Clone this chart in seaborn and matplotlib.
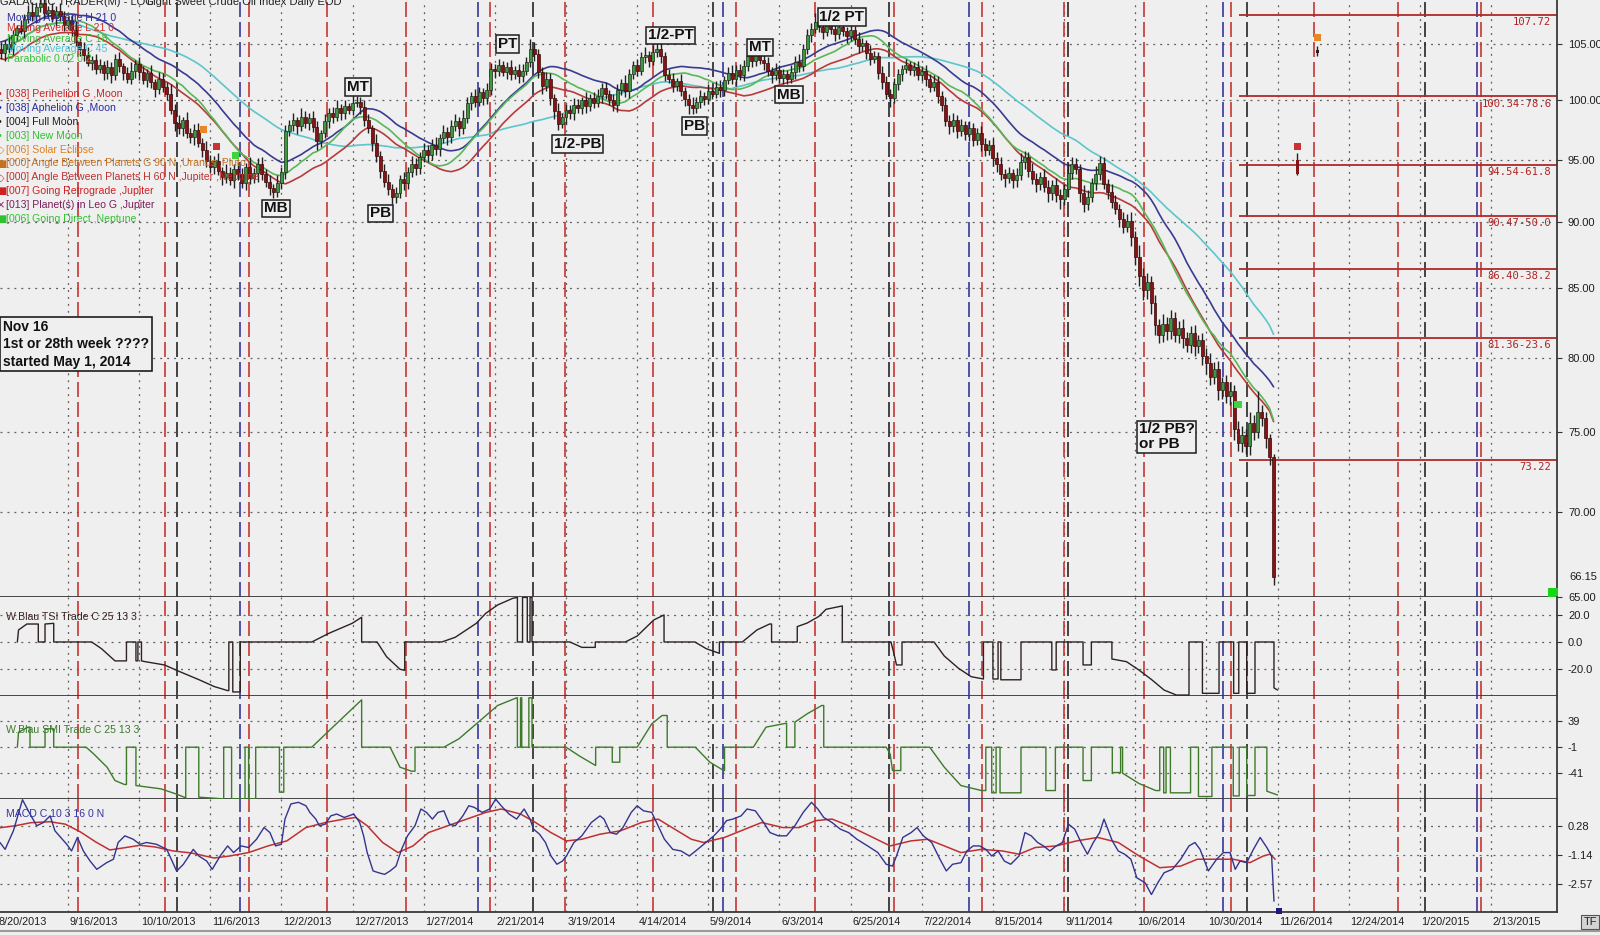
import numpy as np
import pandas as pd
import seaborn as sns
import matplotlib.pyplot as plt
from matplotlib.lines import Line2D
from matplotlib.ticker import NullLocator
from matplotlib.transforms import blended_transform_factory

sns.set_style("white")
plt.rcParams["font.family"] = ["Liberation Sans", "DejaVu Sans"]
plt.rcParams["lines.scale_dashes"] = False

# daily closes, bar 1 = 8/21/2013 ... bar 323 = 11/28/2014
closes = [
    104.2, 105.0, 104.6, 105.8, 106.5, 106.2, 107.3, 108.0, 107.6, 108.4, 108.8, 107.9, 108.2, 107.4, 108.1, 107.6, 106.8, 107.2,
    106.3, 105.2, 104.6, 104.0, 103.3, 103.6, 102.8, 103.1, 102.4, 102.9, 102.2, 103.7, 103.0, 102.4, 101.9, 102.6, 103.2, 102.5,
    101.8, 102.4, 101.6, 101.0, 101.9, 101.2, 100.6, 99.2, 98.1, 97.6, 98.3, 97.2, 96.9, 97.5, 96.4, 95.8, 94.9, 94.4,
    94.9, 94.1, 93.6, 93.9, 93.3, 94.2, 93.8, 93.1, 94.4, 93.5, 93.9, 94.6, 93.8, 93.2, 92.7, 92.4, 93.1, 94.0,
    97.4, 97.9, 98.3, 97.8, 98.6, 98.1, 98.5, 97.7, 96.5, 97.2, 98.2, 98.9, 98.6, 99.3, 98.9, 99.5, 99.2, 99.8,
    99.9, 99.4, 98.3, 97.6, 96.4, 95.3, 94.1, 93.2, 92.6, 92.0, 92.3, 93.4, 93.1, 94.0, 94.6, 94.3, 95.2, 95.8,
    95.4, 96.2, 95.9, 96.8, 97.3, 96.9, 97.8, 98.2, 97.6, 98.5, 99.8, 100.4, 99.9, 100.7, 100.2, 100.9, 102.8, 102.6,
    103.1, 102.5, 102.9, 102.3, 102.7, 102.1, 102.6, 103.4, 104.6, 104.1, 102.5, 101.3, 101.9, 100.2, 99.1, 98.0, 98.6, 99.2,
    98.9, 99.6, 99.3, 100.0, 99.5, 100.2, 99.8, 100.4, 101.1, 100.6, 100.0, 99.6, 100.9, 101.5, 100.8, 102.3, 103.1, 102.6,
    103.8, 104.0, 103.5, 104.3, 104.6, 103.9, 102.2, 101.9, 101.3, 101.7, 100.8, 100.1, 99.6, 99.3, 99.9, 100.4, 100.1, 100.8,
    100.6, 101.2, 100.9, 101.8, 102.4, 101.9, 102.7, 102.2, 103.0, 103.9, 103.5, 104.1, 103.6, 103.3, 102.6, 102.2, 102.7, 102.0,
    102.3, 101.9, 102.5, 103.4, 103.0, 104.6, 105.8, 106.4, 107.0, 106.6, 106.1, 106.9, 106.4, 105.9, 106.6, 106.2, 105.7, 106.3,
    105.5, 104.8, 105.1, 104.2, 103.7, 103.9, 102.4, 101.6, 100.6, 100.2, 101.4, 102.3, 102.8, 103.1, 102.7, 102.9, 102.2, 102.6,
    101.9, 101.2, 101.6, 100.4, 99.6, 98.2, 97.8, 98.3, 97.4, 97.9, 97.1, 97.6, 96.6, 97.2, 96.3, 95.8, 96.2, 95.1,
    94.6, 93.8, 93.5, 93.9, 93.3, 93.7, 94.8, 95.2, 94.1, 93.4, 93.0, 93.6, 92.8, 92.3, 92.9, 92.1, 91.8, 92.6,
    93.9, 94.6, 94.2, 92.3, 91.4, 92.0, 93.1, 93.8, 94.7, 93.0, 92.4, 91.6, 91.0, 90.2, 89.6, 90.1, 88.8, 87.3,
    85.9, 84.8, 85.4, 83.9, 82.3, 81.6, 82.4, 81.9, 82.8, 81.6, 82.1, 81.4, 80.9, 81.7, 80.8, 81.2, 80.1, 79.6,
    78.7, 79.2, 77.8, 78.3, 77.4, 77.7, 75.2, 74.3, 74.8, 74.1, 75.6, 75.0, 76.3, 75.9, 74.6, 73.4, 66.15,
]
first_open = 104.6

# upper / lower shadow length of each candle
wick_up = [
    .6, .4, .8, .5, .3, .7, .5, .6, .9, .4, .5, .8, .3, .6, .4, .7, .5, .4,
    .5, .8, .4, .6, .7, .3, .5, .6, .4, .7, .5, .4, .6, .3, .5, .8, .4, .6,
    .5, .4, .7, .3, .6, .5, .4, .8, .5, .6, .3, .7, .4, .5, .6, .4, .7, .5,
    .4, .6, .3, .7, .5, .4, .6, .5, .3, .8, .4, .5, .6, .4, .5, .3, .6, .4,
    .5, .4, .6, .3, .7, .5, .4, .6, .5, .3, .6, .4, .5, .7, .4, .5, .3, .6,
    .5, .4, .6, .5, .3, .7, .4, .5, .6, .4, .5, .3, .6, .4, .7, .5, .4, .6,
    .4, .5, .7, .3, .6, .4, .5, .6, .4, .7, .5, .3, .6, .5, .4, .6, .5, .4,
    .6, .4, .5, .7, .3, .5, .6, .4, .9, .6, .5, .4, .6, .5, .4, .7, .3, .5,
    .4, .6, .5, .3, .7, .4, .5, .6, .4, .5, .3, .6, .5, .4, .7, .5, .4, .6,
    .5, .7, .4, .6, .8, .5, .4, .6, .5, .3, .6, .4, .5, .7, .4, .5, .3, .6,
    .4, .5, .6, .3, .5, .7, .4, .5, .6, .4, .8, .5, .6, .4, .5, .3, .6, .4,
    .5, .4, .6, .5, .7, .4, .6, .5, .9, .6, .4, .7, .5, .4, .6, .5, .4, .6,
    .4, .6, .5, .3, .7, .5, .4, .6, .5, .4, .6, .5, .3, .6, .4, .5, .6, .4,
    .5, .4, .6, .5, .4, .7, .5, .6, .4, .5, .3, .6, .5, .4, .6, .5, .4, .6,
    .5, .6, .4, .5, .3, .6, .7, .5, .4, .6, .5, .4, .6, .5, .4, .6, .5, .4,
    .8, .6, .5, .4, .6, .5, .4, .7, .6, .5, .4, .6, .5, .4, .6, .5, .7, .5,
    .9, .6, .7, .5, .6, .4, .7, .5, .6, .4, .5, .6, .4, .5, .6, .4, .5, .6,
    .7, .5, .6, .4, .5, .6, .4, .5, .6, .4, .7, .5, 1.4, .5, .4, .3, .2,
]
wick_dn = [
    .5, .7, .4, .6, .5, .3, .6, .4, .5, .7, .4, .6, .5, .4, .7, .5, .6, .4,
    .6, .4, .7, .5, .3, .6, .5, .4, .6, .5, .7, .4, .5, .6, .4, .5, .6, .7,
    .4, .6, .5, .7, .4, .5, .6, .4, .7, .5, .6, .4, .5, .7, .4, .6, .5, .4,
    .6, .4, .7, .5, .4, .6, .5, .4, .6, .5, .4, .7, .5, .4, .6, .5, .4, .5,
    .6, .4, .5, .7, .4, .5, .6, .4, .7, .5, .4, .6, .5, .4, .6, .5, .4, .5,
    .4, .6, .5, .4, .7, .5, .6, .4, .5, .6, .5, .4, .6, .5, .4, .6, .5, .4,
    .6, .4, .5, .6, .4, .7, .5, .4, .6, .5, .4, .6, .5, .4, .6, .5, .4, .6,
    .5, .4, .6, .5, .4, .6, .5, .4, .5, .6, .5, .7, .5, .6, .7, .5, .4, .6,
    .5, .6, .4, .5, .6, .4, .5, .4, .6, .5, .4, .5, .6, .4, .5, .6, .4, .5,
    .4, .5, .6, .4, .5, .6, .5, .4, .6, .5, .4, .6, .8, .5, .4, .6, .5, .4,
    .5, .4, .6, .5, .4, .5, .6, .4, .5, .4, .6, .5, .4, .6, .5, .7, .4, .5,
    .6, .5, .4, .6, .5, .4, .5, .6, .4, .5, .6, .4, .5, .6, .4, .5, .6, .4,
    .5, .6, .4, .5, .6, .4, .5, .6, .5, .8, .4, .5, .6, .4, .5, .6, .4, .5,
    .6, .5, .4, .6, .5, .4, .7, .5, .6, .4, .5, .6, .5, .4, .6, .5, .4, .6,
    .6, .5, .7, .4, .6, .5, .4, .6, .5, .4, .6, .5, .4, .7, .6, .5, .8, .5,
    .6, .5, .4, .7, .6, .5, .4, .6, .5, .4, .6, .5, .4, .6, .5, .4, .7, .6,
    .8, .7, .6, .8, .7, .6, .5, .7, .6, .5, .6, .7, .5, .6, .7, .5, .6, .7,
    .6, .5, .7, .6, .5, .6, .7, .5, .6, .5, .6, .5, .4, .5, .6, .5, .45,
]

# two projected bars in the future area
proj_bars = [329, 334]
proj_open = [95.0, 104.5]
proj_close = [93.8, 104.2]
proj_high = [95.5, 104.8]
proj_low = [93.7, 103.9]

date_labels = ["8/20/2013", "9/16/2013", "10/10/2013", "11/6/2013", "12/2/2013", "12/27/2013",
               "1/27/2014", "2/21/2014", "3/19/2014", "4/14/2014", "5/9/2014", "6/3/2014",
               "6/25/2014", "7/22/2014", "8/15/2014", "9/11/2014", "10/6/2014", "10/30/2014",
               "11/26/2014", "12/24/2014", "1/20/2015", "2/13/2015"]
bars_per_label = 18

# astro event dates (bar position) and their colour group
event_bars = [20.5, 42.6, 45.5, 61.6, 63.8, 83.6, 103.6, 121.8, 124.8, 135.7, 143.8, 165.9,
              181.1, 183.8, 186.9, 207.0, 225.8, 227.1, 245.9, 249.2, 270.0, 270.9, 290.1,
              310.1, 312.3, 316.2, 333.3, 354.4, 361.3, 374.4, 375.4]
event_kinds = ["red", "red", "black", "blue", "red", "red", "red", "blue", "red", "black", "red", "red",
               "black", "blue", "red", "red", "black", "red", "blue", "red", "red", "black", "red",
               "blue", "red", "black", "red", "red", "black", "blue", "red"]

# event markers on the price panel
mark_bars = [52.2, 55.5, 60.5, 167.8, 314.0, 329.0, 334.0]
mark_prices = [97.5, 96.1, 95.3, 105.3, 76.8, 96.1, 105.6]
mark_kinds = ["orange", "red", "green", "orange", "green", "red", "orange"]

fib_levels = [107.72, 100.34, 94.54, 90.47, 86.40, 81.36, 73.22]
fib_labels = ["107.72", "100.34-78.6", "94.54-61.8", "90.47-50.0", "86.40-38.2", "81.36-23.6", "73.22"]
fib_start = 314.2

notes = ["MB", "MT", "PB", "PT", "1/2-PB", "1/2-PT", "PB", "MT", "MB", "1/2 PT", "1/2 PB?\nor PB"]
note_bars = [70.6, 91.4, 97.0, 129.3, 147.0, 170.5, 176.6, 193.1, 200.4, 213.8, 295.9]
note_prices = [91.06, 101.15, 90.66, 105.0, 96.27, 105.8, 97.8, 104.7, 100.5, 107.5, 74.7]

# indicator traces: (bar, value)
tsi_pts = [
    (5.2, 0), (5.5, 8.9), (7.6, 13.3), (10.5, 13.3), (10.5, 0), (12.2, 0), (12.2, 13.3), (14.4, 13.8),
    (14.4, 0), (24.0, 0), (26.5, -5), (29.9, -14), (32.8, -14), (32.8, 0), (35.2, 0), (35.2, -14),
    (35.7, -14), (35.7, 0), (36.6, 0), (36.6, -14), (37.4, -14.5), (42.4, -17), (46.3, -22), (51.2, -28),
    (55.0, -33), (58.4, -36), (58.7, -36), (58.7, 0), (59.7, 0), (59.7, -37), (61.6, -37), (61.6, 0),
    (79.7, 0), (84.0, 6.4), (89.9, 13.8), (92.3, 18.3), (92.3, 0), (96.2, 0), (98.6, -10.9), (102.0, -20.2),
    (103.2, -21), (103.2, 0), (112.6, 0), (116.0, 3.5), (121.3, 13.8), (123.7, 21.2), (126.7, 27.4),
    (130.5, 32.3), (131.7, 33), (131.7, 0), (133.0, 0), (133.0, 33), (134.2, 33), (134.2, 0), (134.9, 0),
    (134.9, 33), (135.4, 33), (135.4, 0), (145.0, 0), (148.0, -4), (151.4, -4), (151.4, 0), (159.0, 0),
    (162.0, 4.4), (166.2, 16.3), (168.8, 20), (168.8, 0), (176.6, 0), (179.5, -5), (182.8, -8.4),
    (182.8, 0), (188.6, 0), (192.3, 8.9), (195.5, 13.3), (196.0, 13.3), (196.0, 0), (202.5, 0),
    (202.5, 11.4), (205.0, 14.0), (207.9, 18.8), (209.8, 24.2), (213.9, 26.7), (213.9, 0), (226.2, 0),
    (226.8, -6.7), (227.6, -17), (229.0, -17), (229.0, 0), (237.1, 0), (239.7, -10.4), (243.3, -19.5),
    (246.5, -25.7), (249.6, -27.4), (249.6, 0), (252.0, 0), (252.0, -27.4), (253.3, -27.4), (253.3, 0),
    (254.0, 0), (254.0, -28), (259.1, -28), (259.1, 0), (266.9, 0), (266.9, -20.7), (268.0, -20.7),
    (268.0, 0), (274.8, 0), (274.8, -17), (276.9, -17), (276.9, 0), (282.1, 0), (282.1, -12.6),
    (285.8, -14.6), (288.9, -20.7), (292.2, -28), (295.3, -35.6), (298.4, -39.3), (301.6, -39.3),
    (301.6, 0), (305.0, 0), (305.0, -38), (309.2, -38), (309.2, 0), (312.9, 0), (312.9, -38),
    (314.2, -38), (314.2, 0), (316.2, 0), (316.2, -38), (318.3, -38), (318.3, 0), (323.1, 0),
    (323.1, -34), (324.0, -35.6),
]
smi_pts = [
    (5.2, -1), (5.5, 22.1), (7.9, 29.8), (8.4, 29.8), (8.4, -1), (12.2, -1), (12.2, 27.2), (14.4, 27.2),
    (14.4, -1), (22.6, -1), (24.5, -11.3), (27.9, -31.8), (29.9, -52.3), (32.3, -58.4), (32.8, -58.4),
    (32.8, -1), (35.2, -1), (35.2, -60), (41.5, -65.1), (45.3, -72.8), (47.8, -78.9), (47.8, -1),
    (51.1, -1), (51.1, -77.9), (57.4, -80.5), (57.4, -1), (59.4, -1), (59.4, -80.5), (62.8, -80.5),
    (62.8, -1), (63.7, -1), (63.7, -80.5), (65.5, -80.5), (65.5, -1), (71.5, -1), (71.5, -70.2),
    (72.6, -70.2), (72.6, -1), (79.7, -1), (85.0, 29.8), (89.9, 58.0), (92.3, 71.8), (92.3, -1),
    (99.5, -1), (102.0, -31.8), (104.9, -37.9), (105.8, -37.9), (105.8, -1), (113.1, -1), (116.9, 11.8),
    (121.3, 34.9), (126.7, 63.1), (131.5, 74.9), (131.7, 74.9), (131.7, -1), (132.5, -1), (132.5, 74.9),
    (132.8, 74.9), (132.8, -1), (134.6, -1), (134.6, 74.9), (135.4, 74.9), (135.4, -1), (144.0, -1),
    (147.5, -15), (151.5, -29.2), (151.5, -1), (155.7, -1), (155.7, -24.1), (157.6, -24.1), (157.6, -1),
    (162.0, -1), (165.7, 34.9), (168.3, 47.7), (169.6, 47.7), (169.6, -1), (176.7, -1), (180.4, -24.1),
    (183.9, -36.9), (184.1, -36.9), (184.1, -1), (191.4, -1), (194.6, 29.8), (199.8, 35.9), (199.8, -1),
    (201.9, -1), (201.9, 37.5), (205.0, 50.3), (208.7, 63.1), (209.2, 63.1), (209.2, -1), (225.0, -1),
    (226.0, -11.3), (226.6, -36.9), (228.7, -36.9), (228.7, -1), (236.0, -1), (239.7, -31.8),
    (243.9, -60), (249.1, -67.7), (250.2, -67.7), (250.2, -1), (251.7, -1), (251.7, -71.2),
    (252.8, -71.2), (252.8, -1), (253.8, -1), (253.8, -71.2), (259.1, -71.2), (259.1, -1), (265.4, -1),
    (265.4, -67.7), (267.8, -67.7), (267.8, -1), (274.8, -1), (274.8, -52.3), (276.9, -52.3),
    (276.9, -1), (282.2, -1), (282.2, -40), (284.3, -40), (284.3, -1), (284.8, -1), (284.8, -41),
    (289.0, -57), (293.2, -67.7), (294.2, -67.7), (294.2, -1), (295.2, -1), (295.2, -71.2),
    (295.8, -71.2), (295.8, -1), (296.9, -1), (296.9, -71.2), (302.0, -71.2), (302.0, -1), (304.0, -1),
    (304.0, -76.9), (307.4, -76.9), (307.4, -1), (312.8, -1), (312.8, -76), (314.3, -76), (314.3, -1),
    (316.2, -1), (316.2, -75.3), (318.3, -75.3), (318.3, -1), (321.3, -1), (321.3, -68.7), (324.0, -74.5),
]
macd_pts = [
    (0.8, -0.53), (2.1, -0.87), (4.2, 0.05), (6.5, 1.59), (8.4, 0.88), (10.1, 0.30), (11.8, 0.46),
    (13.5, 0.79), (14.7, 0.05), (17.7, -0.62), (18.9, -0.95), (20.4, -0.28), (21.9, -0.95), (23.6, -1.45),
    (25.3, -1.86), (27.8, -1.53), (29.5, -1.36), (30.7, -0.53), (32.4, -0.20), (34.5, -0.37),
    (36.2, -0.62), (37.9, -0.53), (40.4, -0.62), (43.0, -0.87), (45.5, -1.95), (47.2, -1.61),
    (49.7, -0.87), (51.1, -1.20), (53.1, -1.45), (54.5, -1.86), (56.5, -1.20), (58.4, -0.70),
    (59.9, -1.03), (61.8, -0.70), (63.7, -0.78), (65.7, -0.37), (67.6, 0.21), (69.1, -0.04),
    (70.5, -0.70), (72.0, -0.62), (72.9, 0.63), (74.4, 1.38), (76.3, 1.46), (78.2, 1.29), (79.2, 0.96),
    (80.7, 0.63), (81.6, 0.30), (83.1, 0.38), (84.5, 0.79), (86.0, 0.88), (87.9, 0.71), (90.3, 0.88),
    (91.8, 0.46), (92.8, -0.20), (93.7, -1.03), (95.2, -1.94), (96.6, -2.03), (98.1, -2.11),
    (99.5, -1.94), (101.0, -1.70), (102.4, -0.87), (103.9, -0.20), (105.8, 0.30), (107.3, 1.13),
    (108.7, 0.96), (110.2, 0.63), (111.6, 0.96), (113.1, 1.04), (114.5, 0.38), (116.0, 0.30),
    (117.9, 0.79), (119.4, 1.29), (120.8, 1.21), (122.8, 0.96), (124.7, 1.13), (126.2, 1.62),
    (127.6, 1.29), (129.6, 0.88), (131.5, 0.63), (133.4, 1.13), (134.9, 0.63), (135.8, 0.13),
    (137.3, -0.12), (138.8, -0.53), (140.2, -1.20), (141.7, -1.61), (143.1, -1.45), (144.1, -1.20),
    (146.0, -0.53), (148.0, -0.20), (150.4, 0.46), (152.6, 0.79), (153.6, 0.63), (155.2, -0.04),
    (156.8, -0.12), (158.4, 0.21), (160.5, 0.96), (162.0, 1.29), (163.6, 1.04), (165.7, 0.96),
    (167.3, 0.30), (168.9, -0.37), (171.0, -0.87), (173.1, -0.95), (175.2, -1.20), (177.3, -0.87),
    (179.4, -0.53), (181.4, -0.20), (183.0, 0.13), (184.6, 0.55), (186.2, 0.63), (188.3, 0.79),
    (189.8, 1.13), (191.9, 1.04), (194.0, 0.46), (195.6, -0.04), (197.7, -0.20), (199.8, -0.20),
    (201.9, 0.30), (204.0, 0.96), (206.1, 1.46), (207.7, 1.13), (209.2, 0.71), (211.3, 0.46),
    (213.4, 0.13), (215.5, -0.04), (217.6, -0.37), (220.3, -0.70), (222.9, -1.03), (225.0, -1.61),
    (226.6, -1.70), (227.6, -1.20), (229.2, -0.28), (231.3, -0.04), (232.8, 0.21), (234.4, -0.20),
    (236.5, -0.53), (238.6, -1.36), (240.2, -1.94), (241.8, -1.61), (243.9, -1.53), (245.4, -0.95),
    (247.0, -0.70), (248.6, -0.70), (250.2, -0.87), (251.7, -1.20), (253.3, -0.95), (254.9, -1.45),
    (256.5, -1.61), (258.6, -1.20), (260.1, -0.04), (261.7, -0.20), (263.3, -0.53), (264.8, -0.70),
    (266.4, -0.95), (268.0, -0.70), (269.6, -0.53), (271.1, 0.38), (272.7, 0.13), (274.3, -0.53),
    (275.9, -1.11), (277.4, -0.53), (279.0, -0.04), (280.1, 0.63), (282.2, -0.45), (283.7, -0.95),
    (285.3, -1.11), (286.9, -1.36), (288.4, -2.28), (290.5, -2.53), (292.1, -3.11), (293.7, -2.53),
    (295.3, -2.03), (297.4, -1.86), (299.5, -1.36), (301.6, -0.70), (303.1, -0.53), (304.4, -0.87),
    (306.5, -1.94), (308.6, -1.36), (310.3, -1.03), (312.0, -1.03), (313.3, -1.86), (314.5, -1.45),
    (316.2, -1.53), (317.9, -0.87), (319.6, -0.28), (321.3, -0.78), (322.5, -1.20), (323.1, -3.44),
]
signal_pts = [
    (0.8, 0.20), (4.7, 0.30), (8.6, 0.45), (13.4, 0.50), (17.3, 0.38), (21.1, 0.0), (25.0, -0.50),
    (28.6, -0.90), (32.0, -0.80), (36.2, -0.67), (40.0, -0.75), (44.6, -0.95), (49.2, -1.05),
    (55.0, -1.30), (58.9, -1.20), (63.7, -1.03), (68.6, -0.70), (73.4, -0.45), (78.2, 0.21),
    (83.1, 0.46), (87.9, 0.63), (90.8, 0.71), (93.7, 0.30), (97.6, -0.53), (101.5, -1.03),
    (105.3, -0.70), (109.2, -0.04), (114.1, 0.30), (118.9, 0.63), (123.7, 0.96), (127.6, 1.13),
    (132.5, 0.88), (136.3, 0.46), (140.2, -0.04), (144.1, -0.45), (148.0, -0.37), (152.6, -0.12),
    (157.8, 0.05), (163.1, 0.46), (167.3, 0.63), (171.5, 0.13), (175.7, -0.37), (178.8, -0.53),
    (184.1, -0.28), (189.3, 0.13), (193.5, 0.46), (198.8, 0.21), (203.0, 0.21), (207.1, 0.55),
    (211.3, 0.63), (215.5, 0.30), (220.8, -0.20), (226.0, -0.70), (231.3, -0.45), (235.5, -0.37),
    (239.7, -0.70), (243.9, -1.03), (249.1, -0.87), (254.4, -0.95), (258.6, -1.11), (262.7, -0.78),
    (268.0, -0.70), (273.2, -0.45), (278.5, -0.28), (283.7, -0.53), (289.0, -1.20), (294.2, -1.78),
    (299.5, -1.70), (303.7, -1.36), (308.6, -1.36), (312.8, -1.36), (317.0, -1.53), (320.4, -1.20),
    (322.1, -1.11), (323.4, -1.36),
]

price_ticks = [105, 100, 95, 90, 85, 80, 75, 70, 65]
tsi_ticks = [20, 0, -20]
smi_ticks = [39, -1, -41]
macd_ticks = [0.28, -1.14, -2.57]

# ---------------------------------------------------------------- frame
BG = "#efefef"
W, H = 1600, 935
XMAX = 394.7
fig = plt.figure(figsize=(W / 100, H / 100), dpi=100, facecolor=BG)
DOT = (0, (1.4, 3.6))
DASH = (0, (10.8, 3.6))
kind_color = {"red": "#c83434", "blue": "#36369a", "black": "#262626",
              "orange": "#e8862a", "green": "#3fd33f"}


def panel(top, bottom):
    ax = fig.add_axes([0, 1 - bottom / H, 1557 / W, (bottom - top) / H])
    ax.set_facecolor(BG)
    ax.spines["left"].set_visible(False)
    ax.spines["top"].set_visible(False)
    for side in ("right", "bottom"):
        ax.spines[side].set_color("#3a3a3a")
        ax.spines[side].set_linewidth(1.3)
    ax.yaxis.tick_right()
    ax.tick_params(axis="y", direction="out", length=3.6, width=0.8, color="#333",
                   pad=4.3, labelsize=8, labelcolor="#1e1e1e")
    ax.tick_params(axis="x", bottom=False, labelbottom=False)
    return ax


ax_p = panel(0, 597)
ax_t = panel(597, 696)
ax_s = panel(696, 799)
ax_m = panel(799, 912)
axes = [ax_p, ax_t, ax_s, ax_m]

# grid + event lines through every panel
for ax in axes:
    for k in range(1, len(date_labels)):
        ax.axvline(k * bars_per_label, color="#606060", lw=0.9, ls=DOT, zorder=1)
    for b, kind in zip(event_bars, event_kinds):
        ax.axvline(b, color=kind_color[kind], lw=1.2, ls=DASH, zorder=1.5)

# ---------------------------------------------------------------- price panel
n = len(closes)
df = pd.DataFrame({"bar": np.arange(1, n + 1), "close": closes})
df["open"] = [first_open] + closes[:-1]
df["high"] = df[["open", "close"]].max(axis=1) + np.array(wick_up)
df["low"] = df[["open", "close"]].min(axis=1) - np.array(wick_dn)
df["ma_h21"] = df["high"].rolling(21, min_periods=1).mean()
df["ma_l21"] = df["low"].rolling(21, min_periods=1).mean()
df["ma_c18"] = df["close"].rolling(18, min_periods=1).mean()
df["ma_c45"] = df["close"].rolling(45, min_periods=1).mean()

ax_p.set_yscale("log")
for v in price_ticks[:-1]:
    ax_p.axhline(v, color="#606060", lw=0.9, ls=DOT, zorder=1)

for col, colr in [("ma_c45", "#5cc6cc"), ("ma_h21", "#3a3a90"), ("ma_l21", "#b83a3a"), ("ma_c18", "#58b858")]:
    sns.lineplot(data=df, x="bar", y=col, ax=ax_p, color=colr, lw=1.2, zorder=2.5)

up = df["close"] >= df["open"]
body_lo = df[["open", "close"]].min(axis=1)
body_h = (df["close"] - df["open"]).abs().clip(lower=0.1)
ax_p.vlines(df["bar"], df["low"], df["high"], color="#222222", lw=1.0, zorder=3)
ax_p.bar(df.loc[up, "bar"], body_h[up], bottom=body_lo[up], width=0.75,
         color="#3f973f", edgecolor="#1c2c1c", lw=0.5, zorder=3.5)
ax_p.bar(df.loc[~up, "bar"], body_h[~up], bottom=body_lo[~up], width=0.75,
         color="#861414", edgecolor="#3a0808", lw=0.5, zorder=3.5)

# projected bars
ax_p.vlines(proj_bars, proj_low, proj_high, color="#222222", lw=1.0, zorder=3)
ax_p.bar(proj_bars, np.abs(np.subtract(proj_open, proj_close)), bottom=np.minimum(proj_open, proj_close),
         width=0.75, color=["#861414", "#222222"], lw=0, zorder=3.5)

ax_p.scatter(mark_bars, mark_prices, marker="s", s=26,
             color=[kind_color[k] for k in mark_kinds], zorder=5, linewidths=0)
ax_p.scatter([393.7], [65.25], marker="s", s=55, color="#16d616", zorder=6, clip_on=False, linewidths=0)

# fibonacci levels
ax_p.hlines(fib_levels, fib_start, XMAX, color="#b02828", lw=1.3, zorder=2)
for lvl, lbl in zip(fib_levels, fib_labels):
    ax_p.annotate(lbl, (393.3, lvl), xytext=(0, -1.5), textcoords="offset points", ha="right",
                  va="top", family="DejaVu Sans Mono", fontsize=7.6, color="#b02424", zorder=6)

for s, b, p in zip(notes, note_bars, note_prices):
    ax_p.text(b, p, s, ha="center", va="center", fontsize=11, fontweight="bold", color="#111111",
              multialignment="left", linespacing=1.05, zorder=7,
              bbox=dict(boxstyle="square,pad=0.12", fc=BG, ec="#1e1e1e", lw=1.1))

ax_p.text(0.0019, 0.464, "Nov 16\n1st or 28th week ????\nstarted May 1, 2014", transform=ax_p.transAxes,
          ha="left", va="top", fontsize=10, fontweight="bold", color="#111111", linespacing=1.3, zorder=7,
          bbox=dict(boxstyle="square,pad=0.2", fc=BG, ec="#1e1e1e", lw=1.2))

ax_p.set_ylim(65, 109.1)
ax_p.yaxis.set_minor_locator(NullLocator())
ax_p.set_yticks(price_ticks)
ax_p.set_yticklabels([f"{v:.2f}" for v in price_ticks])
ax_p.text(1.0077, 66.15, "66.15", transform=blended_transform_factory(ax_p.transAxes, ax_p.transData),
          ha="left", va="center", fontsize=8, color="#1e1e1e")

# ---------------------------------------------------------------- indicator panels
tsi = pd.DataFrame(tsi_pts, columns=["bar", "value"])
smi = pd.DataFrame(smi_pts, columns=["bar", "value"])
macd = pd.DataFrame(macd_pts, columns=["bar", "value"])
signal = pd.DataFrame(signal_pts, columns=["bar", "value"])

for ax, ticks in [(ax_t, tsi_ticks), (ax_s, smi_ticks), (ax_m, macd_ticks)]:
    for v in ticks:
        ax.axhline(v, color="#606060", lw=0.9, ls=DOT, zorder=1)

sns.lineplot(data=tsi, x="bar", y="value", ax=ax_t, sort=False, estimator=None, color="#2e2222", lw=1.0, zorder=3)
sns.lineplot(data=smi, x="bar", y="value", ax=ax_s, sort=False, estimator=None, color="#3d7a2a", lw=1.0, zorder=3)
sns.lineplot(data=signal, x="bar", y="value", ax=ax_m, sort=False, estimator=None, color="#c03030", lw=1.1, zorder=3)
sns.lineplot(data=macd, x="bar", y="value", ax=ax_m, sort=False, estimator=None, color="#34348e", lw=1.0, zorder=3.5)
ax_m.scatter([324.4], [-3.92], marker="s", s=22, color="#1a1a80", zorder=6, clip_on=False, linewidths=0)

ax_t.set_ylim(-40, 33.3)
ax_t.set_yticks(tsi_ticks)
ax_t.set_yticklabels([f"{v:.1f}" for v in tsi_ticks])
ax_s.set_ylim(-80.7, 77.7)
ax_s.set_yticks(smi_ticks)
ax_s.set_yticklabels([str(v) for v in smi_ticks])
ax_m.set_ylim(-3.975, 1.625)
ax_m.set_yticks(macd_ticks)
ax_m.set_yticklabels([f"{v:.2f}" for v in macd_ticks])

for ax in axes:
    ax.set_xlim(0.81, XMAX)
    ax.set_xlabel("")
    ax.set_ylabel("")

# date labels under the bottom panel
date_tf = blended_transform_factory(ax_m.transData, ax_m.transAxes)
for k, lbl in enumerate(date_labels):
    ax_m.text(k * bars_per_label + 0.4, -0.088, lbl, transform=date_tf, ha="left", va="center",
              fontsize=7.8, color="#1e1e1e", clip_on=False)


# ---------------------------------------------------------------- header / legends
def ftext(x, y, s, **kw):
    fig.text(x / W, 1 - y / H, s, va="center", ha="left", **kw)


ftext(0, 2, "GALACTIC TRADER(M) - LOG", fontsize=8, color="#222222")
ftext(147, 2, "Light Sweet Crude Oil Index Daily EOD", fontsize=8, color="#222222")

ma_legend = [("Moving Average H 21 0", "#2e2ea0"), ("Moving Average L 21 0", "#cc3030"),
             ("Moving Average C 18", "#3cb83c"), ("Moving Average C 45", "#4cc4d4"),
             ("Parabolic 0.02 0.2", "#38c038")]
for i, (s, c) in enumerate(ma_legend):
    ftext(7, 18 + i * 10.3, s, fontsize=7.6, color=c, zorder=8)

event_legend = [("•", "[038] Perihelion G ,Moon", "#cc2222"),
                ("•", "[038] Aphelion G ,Moon", "#2a2aa0"),
                ("•", "[004] Full Moon", "#1e1e1e"),
                ("•", "[003] New Moon", "#30c030"),
                ("◇", "[006] Solar Eclipse", "#e08020"),
                ("■", "[000] Angle Between Planets G 90 N ,Uranus ,Pluto", "#c8701c"),
                ("◇", "[000] Angle Between Planets H 60 N ,Jupiter ,Neptune", "#c03030"),
                ("■", "[007] Going Retrograde ,Jupiter", "#d02020"),
                ("×", "[013] Planet(s) in Leo G ,Jupiter", "#7a1e5a"),
                ("■", "[006] Going Direct ,Neptune", "#30c030")]
for i, (sym, s, c) in enumerate(event_legend):
    y = 94 + i * 13.9
    ftext(-3, y, sym, fontsize=7, color=c, family="DejaVu Sans", zorder=8)
    ftext(6, y, s, fontsize=7.6, color=c, zorder=8)

ftext(6, 617, "W.Blau TSI Trade C 25 13 3", fontsize=7.6, color="#3a2222")
ftext(6, 730, "W.Blau SMI Trade C 25 13 3", fontsize=7.6, color="#3a7a2a")
ftext(6, 814, "MACD C 10 3 16 0 N", fontsize=7.6, color="#3535a5")

fig.add_artist(Line2D([0, 1], [1 - 931 / H] * 2, color="#9a9a9a", lw=1.5))
fig.text(1590 / W, 1 - 922 / H, "TF", ha="center", va="center", fontsize=8, color="#222222",
         bbox=dict(boxstyle="square,pad=0.2", fc="#d4d4d4", ec="#555555", lw=0.8))

fig.savefig("out.png", dpi=100, facecolor=BG)
